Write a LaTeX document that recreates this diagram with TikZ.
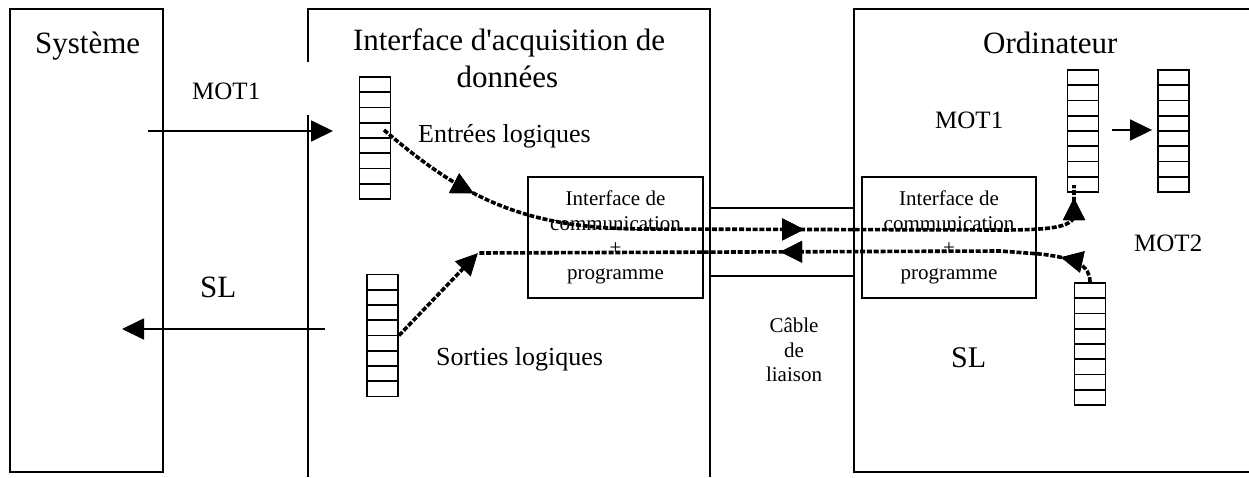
\documentclass[tikz,border=0pt]{standalone}
\usepackage{fontspec}
\setmainfont{Liberation Serif}
\newfontfamily\ser{Liberation Serif}
\usetikzlibrary{arrows.meta,calc,decorations.markings}
\begin{document}
\begin{tikzpicture}[x=1pt,y=-1pt,
  box/.style={draw, line width=1.8pt, inner sep=0pt},
  big/.style={font=\ser\fontsize{31}{37}\selectfont, inner sep=0pt},
  mid/.style={font=\ser\fontsize{26}{30}\selectfont, inner sep=0pt},
  lab/.style={font=\ser\fontsize{25}{29}\selectfont, inner sep=0pt},
  small/.style={font=\ser\fontsize{21}{24.5}\selectfont, inner sep=0pt},
  reg/.style={draw, line width=1.9pt, inner sep=0pt, minimum width=31pt, minimum height=122pt,
    path picture={\foreach \k in {1,...,7}{\draw[line width=1.9pt]
      ($(path picture bounding box.north west)!\k/8!(path picture bounding box.south west)$) --
      ($(path picture bounding box.north east)!\k/8!(path picture bounding box.south east)$);}}},
  tip/.style={line width=1.8pt, -{Triangle[length=22pt,width=21pt]}},
  flow/.style={line width=3.6pt, dash pattern=on 5pt off 1.8pt},
  mk/.style={postaction={decorate}, decoration={markings,
    mark=at position #1 with {\arrow{Triangle[length=22pt,width=21pt]}}}},
]
\useasboundingbox (0,0) rectangle (1249,477);

% main blocks
\node[box, minimum width=153pt, minimum height=463pt] (sys) at (86.5,240.5) {};
\draw[line width=1.8pt] (308,62) -- (308,9) -- (710,9) -- (710,477);
\draw[line width=1.8pt] (308,115) -- (308,477);
\draw[line width=1.8pt] (1249,9) -- (854,9) -- (854,472) -- (1249,472);
\node[box, minimum width=144pt, minimum height=68pt] (cable) at (782,242) {};

% titles
\node[big, anchor=base west] (tsys) at (35,53) {Système};
\node[big, anchor=base] (tacq) at (509,50) {Interface d'acquisition de};
\node[big, anchor=base] (tacq2) at (507.5,87) {données};
\node[big, anchor=base west] (tord) at (983,53) {Ordinateur};

% communication boxes
\node[box, small, minimum width=175pt, minimum height=121pt, align=center] (comm1) at (615.5,237.5)
  {Interface de\\communication\\+\\programme};
\node[box, small, minimum width=174pt, minimum height=121pt, align=center] (comm2) at (949,237.5)
  {Interface de\\communication\\+\\programme};

% registers
\node[reg] (reg1) at (375,138) {};
\node[reg] (reg2) at (382.5,335.5) {};
\node[reg] (reg3) at (1083,131) {};
\node[reg] (reg4) at (1173.5,131) {};
\node[reg] (reg5) at (1090,344) {};

% labels
\node[lab, anchor=base west] (lmot1) at (192,99) {MOT1};
\node[mid, anchor=base west] (lent) at (418,142) {Entrées logiques};
\node[big, anchor=base west] (lsl) at (200,297) {SL};
\node[mid, anchor=base west] (lsor) at (436,365) {Sorties logiques};
\node[small, align=center] (lcab) at (794,350) {Câble\\de\\liaison};
\node[lab, anchor=base west] (rmot1) at (935,128) {MOT1};
\node[lab, anchor=base west] (rmot2) at (1134,251) {MOT2};
\node[font=\ser\fontsize{30}{36}\selectfont, inner sep=0pt, anchor=base west] (rsl) at (951,367) {SL};

% plain arrows
\coordinate (m1s) at (148,131);
\coordinate (m1e) at (333,131);
\draw[tip] (m1s) -- (m1e);
\coordinate (sls) at (325,329);
\coordinate (sle) at (122,329);
\draw[tip] (sls) -- (sle);
\draw[tip] ($(reg3.east)+(13,-1)$) -- ($(reg4.west)+(-5,-1)$);

% dashed flow A : entrees -> ordinateur
\coordinate (a0) at (384,130);
\coordinate (a1) at (640,229);
\coordinate (a2) at (1000,230);
\coordinate (a3) at (1074,215);
\coordinate (a4) at (1074,185);
\draw[flow, mk=110pt, mk=446pt, mk=-13pt]
  (a0) .. controls (460,195) and (520,228) .. (a1) -- (a2)
  .. controls (1045,230) and (1074,228) .. (a3) -- (a4);

% dashed flow B : ordinateur -> sorties
\coordinate (b1) at (1040,254);
\coordinate (b2) at (1000,251);
\coordinate (bc) at (478,253);
\draw[flow, mk=42pt, mk=323pt]
  (reg5.north) .. controls (1090,265) and (1075,258) .. (b1) -- (b2) -- (bc);
\draw[flow, -{Triangle[length=22pt,width=21pt]}] (reg2.east) -- (bc);
\end{tikzpicture}
\end{document}
